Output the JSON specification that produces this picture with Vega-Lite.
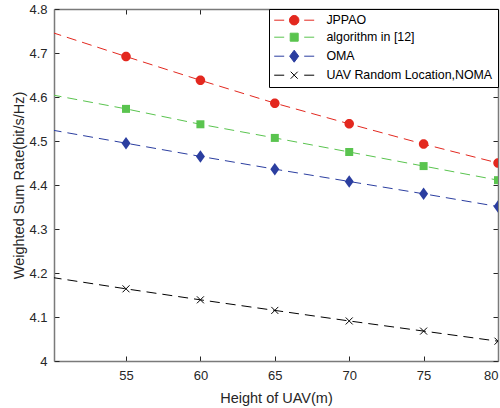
{
  "$schema": "https://vega.github.io/schema/vega-lite/v6.json",
  "width": 444,
  "height": 352,
  "autosize": {"type": "none"},
  "padding": {"left": 54, "top": 9, "right": 2, "bottom": 47},
  "background": "white",
  "config": {
    "font": "Liberation Sans",
    "view": {"stroke": null},
    "axis": {
      "grid": false,
      "domainColor": "#7a7a7a",
      "domainWidth": 1.5,
      "tickColor": "#262626",
      "tickWidth": 1,
      "tickSize": -5,
      "labelFont": "Liberation Sans",
      "labelFontSize": 13,
      "labelColor": "#262626",
      "titleFont": "Liberation Sans",
      "titleFontSize": 14.5,
      "titleFontWeight": "normal",
      "titleColor": "#262626"
    }
  },
  "data": {
    "values": [
      {"series": "JPPAO", "h": 50, "rate": 4.747},
      {"series": "JPPAO", "h": 55, "rate": 4.692},
      {"series": "JPPAO", "h": 60, "rate": 4.638},
      {"series": "JPPAO", "h": 65, "rate": 4.586},
      {"series": "JPPAO", "h": 70, "rate": 4.539},
      {"series": "JPPAO", "h": 75, "rate": 4.493},
      {"series": "JPPAO", "h": 80, "rate": 4.450},
      {"series": "algorithm in [12]", "h": 50, "rate": 4.605},
      {"series": "algorithm in [12]", "h": 55, "rate": 4.573},
      {"series": "algorithm in [12]", "h": 60, "rate": 4.538},
      {"series": "algorithm in [12]", "h": 65, "rate": 4.507},
      {"series": "algorithm in [12]", "h": 70, "rate": 4.475},
      {"series": "algorithm in [12]", "h": 75, "rate": 4.443},
      {"series": "algorithm in [12]", "h": 80, "rate": 4.411},
      {"series": "OMA", "h": 50, "rate": 4.525},
      {"series": "OMA", "h": 55, "rate": 4.495},
      {"series": "OMA", "h": 60, "rate": 4.465},
      {"series": "OMA", "h": 65, "rate": 4.436},
      {"series": "OMA", "h": 70, "rate": 4.408},
      {"series": "OMA", "h": 75, "rate": 4.380},
      {"series": "OMA", "h": 80, "rate": 4.351},
      {"series": "UAV Random Location,NOMA", "h": 50, "rate": 4.190},
      {"series": "UAV Random Location,NOMA", "h": 55, "rate": 4.164},
      {"series": "UAV Random Location,NOMA", "h": 60, "rate": 4.139},
      {"series": "UAV Random Location,NOMA", "h": 65, "rate": 4.115},
      {"series": "UAV Random Location,NOMA", "h": 70, "rate": 4.091},
      {"series": "UAV Random Location,NOMA", "h": 75, "rate": 4.068},
      {"series": "UAV Random Location,NOMA", "h": 80, "rate": 4.045}
    ]
  },
  "layer": [
    {
      "mark": {"type": "line", "strokeDash": [10, 6], "strokeWidth": 1, "clip": true},
      "encoding": {
        "x": {"field": "h", "type": "quantitative", "scale": {"domain": [50.16, 80], "nice": false, "zero": false},
              "axis": {"orient": "top", "labels": false, "title": null, "values": [55, 60, 65, 70, 75, 80]}},
        "y": {"field": "rate", "type": "quantitative", "scale": {"domain": [4, 4.8], "nice": false, "zero": false},
              "axis": {"orient": "right", "labels": false, "title": null, "values": [4, 4.1, 4.2, 4.3, 4.4, 4.5, 4.6, 4.7, 4.8]}},
        "color": {"field": "series", "type": "nominal",
                  "scale": {"domain": ["JPPAO", "algorithm in [12]", "OMA", "UAV Random Location,NOMA"],
                            "range": ["#e3281f", "#5ac44f", "#2b3ea0", "#000000"]},
                  "legend": {
                    "orient": "top-right", "offset": 0, "title": null,
                    "strokeColor": "#000000", "fillColor": "#ffffff", "padding": 5,
                    "labelFont": "Liberation Sans", "labelFontSize": 12.4, "labelColor": "#000000", "labelLimit": 400,
                    "symbolSize": 100, "symbolOffset": 14, "labelOffset": 26, "rowPadding": 4,
                    "encode": {
                      "symbols": {
                        "update": {
                          "shape": {"signal": "datum.value === 'JPPAO' ? 'M-4,0H-2M2,0H4M-0.95,0A0.95,0.95 0 1,0 0.95,0A0.95,0.95 0 1,0 -0.95,0Z' : datum.value === 'OMA' ? 'M-4,0H-2M2,0H4M0,-1.2L0.9,0L0,1.2L-0.9,0Z' : datum.value === 'algorithm in [12]' ? 'M-4,0H-2M2,0H4M-0.8,-0.8H0.8V0.8H-0.8Z' : 'M-4,0H-2M2,0H4M-0.7,-0.7L0.7,0.7M-0.7,0.7L0.7,-0.7'"},
                          "size": {"value": 100},
                          "stroke": {"scale": "color", "field": "value"},
                          "strokeWidth": {"value": 1},
                          "strokeDash": {"value": []},
                          "fill": {"scale": "color", "field": "value"},
                          "opacity": {"value": 1},
                          "fillOpacity": {"value": 1}
                        }
                      }
                    }
                  }},
        "detail": {"field": "series"}
      }
    },
    {
      "transform": [{"filter": "datum.h >= 55 && datum.series === 'JPPAO'"}],
      "mark": {"type": "point", "filled": true, "size": 100, "opacity": 1, "clip": true,
               "shape": "M-0.95,0A0.95,0.95 0 1,0 0.95,0A0.95,0.95 0 1,0 -0.95,0Z"},
      "encoding": {
        "x": {"field": "h", "type": "quantitative",
              "axis": {"orient": "bottom", "title": "Height of UAV(m)", "values": [55, 60, 65, 70, 75, 80], "labelPadding": 13, "titlePadding": 9}},
        "y": {"field": "rate", "type": "quantitative",
              "axis": {"orient": "left", "title": "Weighted Sum Rate(bit/s/Hz)", "values": [4, 4.1, 4.2, 4.3, 4.4, 4.5, 4.6, 4.7, 4.8], "labelPadding": 12, "titlePadding": 2, "format": ".1~f"}},
        "color": {"field": "series", "type": "nominal"}
      }
    },
    {
      "transform": [{"filter": "datum.h >= 55 && datum.series === 'algorithm in [12]'"}],
      "mark": {"type": "point", "filled": true, "size": 100, "opacity": 1, "clip": true,
               "shape": "M-0.8,-0.8H0.8V0.8H-0.8Z"},
      "encoding": {
        "x": {"field": "h", "type": "quantitative", "axis": null},
        "y": {"field": "rate", "type": "quantitative", "axis": null},
        "color": {"field": "series", "type": "nominal"}
      }
    },
    {
      "transform": [{"filter": "datum.h >= 55 && datum.series === 'OMA'"}],
      "mark": {"type": "point", "filled": true, "size": 100, "opacity": 1, "clip": true,
               "shape": "M0,-1.25L0.9,0L0,1.25L-0.9,0Z"},
      "encoding": {
        "x": {"field": "h", "type": "quantitative", "axis": null},
        "y": {"field": "rate", "type": "quantitative", "axis": null},
        "color": {"field": "series", "type": "nominal"}
      }
    },
    {
      "transform": [{"filter": "datum.h >= 55 && datum.series === 'UAV Random Location,NOMA'"}],
      "mark": {"type": "point", "filled": false, "size": 100, "strokeWidth": 1, "opacity": 1, "clip": true,
               "shape": "M-0.7,-0.7L0.7,0.7M-0.7,0.7L0.7,-0.7"},
      "encoding": {
        "x": {"field": "h", "type": "quantitative", "axis": null},
        "y": {"field": "rate", "type": "quantitative", "axis": null},
        "color": {"field": "series", "type": "nominal"}
      }
    }
  ],
  "resolve": {"axis": {"x": "independent", "y": "independent"}}
}
